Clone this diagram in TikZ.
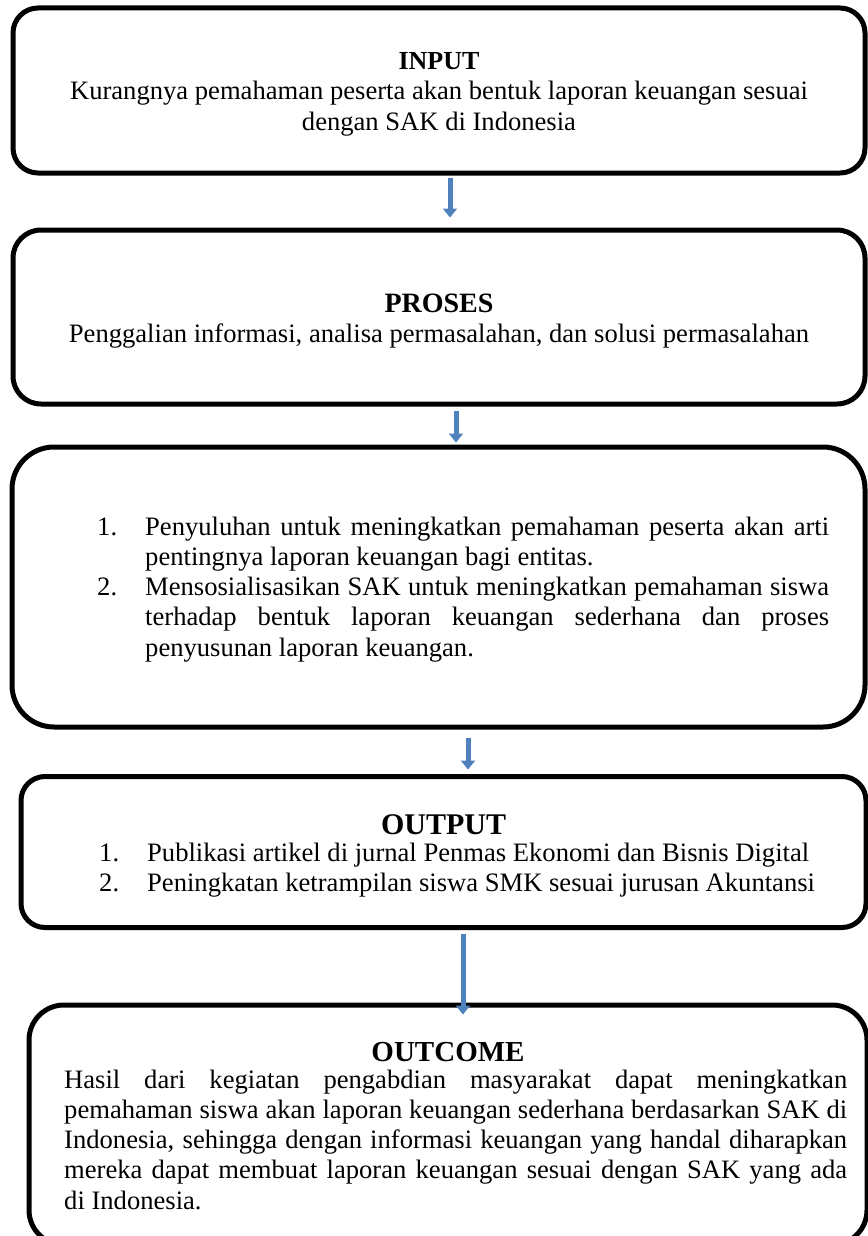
\documentclass[tikz,border=0pt]{standalone}
\usepackage{fontspec}
\setmainfont{Liberation Serif}
\usetikzlibrary{arrows.meta}
\definecolor{flowblue}{RGB}{79,129,189}
\newcommand{\jline}[1]{\makebox[\linewidth][s]{#1}}
\newcommand{\itemno}[1]{\leavevmode\llap{\makebox[48pt][l]{#1}}}
\newcommand{\bodyfont}{\fontsize{26.6}{30.3}\selectfont}

\begin{document}
\begin{tikzpicture}[x=1pt,y=-1pt]
\path [use as bounding box] (0,0) rectangle (867,1236);
\tikzstyle{box} = [draw, line width=5pt, inner sep=0pt]
\tikzstyle{title} = [inner sep=0pt, anchor=base, font=\bfseries]
\tikzstyle{body} = [inner sep=0pt, anchor=base]
\tikzstyle{flow} = [draw=flowblue, line width=5pt, -{Triangle[width=14pt,length=9pt]}]
\node[box, rounded corners=25pt, minimum width=852pt, minimum height=165pt] (input) at (439,90.5) {};
\node[box, rounded corners=28pt, minimum width=852pt, minimum height=174pt] (proses) at (439,317) {};
\node[box, rounded corners=42pt, minimum width=853pt, minimum height=280pt] (solusi) at (438.5,587) {};
\node[box, rounded corners=24pt, minimum width=845pt, minimum height=151pt] (output) at (443.5,852) {};
\node[box, rounded corners=35pt, minimum width=838pt, minimum height=240pt] (outcome) at (448,1125) {};
\node[title, font=\fontsize{26}{30}\selectfont\bfseries] (inputTitle) at (439,70) {INPUT};
\node[body] (inputText) at (439,100) {\parbox[t]{852pt}{\centering\bodyfont
Kurangnya pemahaman peserta akan bentuk laporan keuangan sesuai\\
dengan SAK di Indonesia}};
\node[title, font=\fontsize{28}{30}\selectfont\bfseries] (prosesTitle) at (439,312) {PROSES};
\node[body] (prosesText) at (439,342) {\parbox[t]{852pt}{\centering\bodyfont
Penggalian informasi, analisa permasalahan, dan solusi permasalahan}};
\node[body, anchor=base west] (solusiText) at (145,535) {\parbox[t]{684pt}{\bodyfont
\itemno{1.}\jline{Penyuluhan untuk meningkatkan pemahaman peserta akan arti}\\
pentingnya laporan keuangan bagi entitas.\\
\itemno{2.}\jline{Mensosialisasikan SAK untuk meningkatkan pemahaman siswa}\\
\jline{terhadap bentuk laporan keuangan sederhana dan proses}\\
penyusunan laporan keuangan.}};
\node[title, font=\fontsize{30}{30}\selectfont\bfseries] (outputTitle) at (443.5,834) {OUTPUT};
\node[body, anchor=base west] (outputText) at (147,861) {\parbox[t]{700pt}{\bodyfont
\itemno{1.}Publikasi artikel di jurnal Penmas Ekonomi dan Bisnis Digital\\
\itemno{2.}Peningkatan ketrampilan siswa SMK sesuai jurusan Akuntansi}};
\node[title, font=\fontsize{29}{30}\selectfont\bfseries] (outcomeTitle) at (448,1061) {OUTCOME};
\node[body, anchor=base west] (outcomeText) at (64,1088) {\parbox[t]{783pt}{\bodyfont
\jline{Hasil dari kegiatan pengabdian masyarakat dapat meningkatkan}\\
\jline{pemahaman siswa akan laporan keuangan sederhana berdasarkan SAK di}\\
\jline{Indonesia, sehingga dengan informasi keuangan yang handal diharapkan}\\
\jline{mereka dapat membuat laporan keuangan sesuai dengan SAK yang ada}\\
di Indonesia.}};
\draw[flow] ([xshift=11pt,yshift=-2pt]input.south) -- ([xshift=11pt,yshift=10pt]proses.north);
\draw[flow] ([xshift=17pt,yshift=-4pt]proses.south) -- ([xshift=17.5pt,yshift=2pt]solusi.north);
\draw[flow] ([xshift=29.5pt,yshift=-8pt]solusi.south) -- ([xshift=24.5pt,yshift=4.5pt]output.north);
\draw[flow] ([xshift=19.5pt,yshift=-3.5pt]output.south) -- ([xshift=15pt,yshift=-12pt]outcome.north);
\end{tikzpicture}
\end{document}
